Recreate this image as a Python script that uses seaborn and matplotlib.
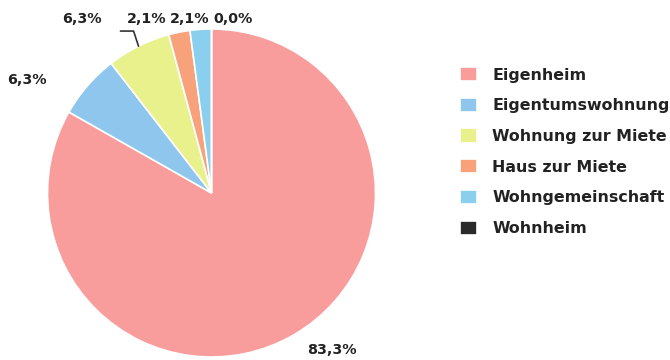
import numpy as np
import matplotlib
matplotlib.use("Agg")
import matplotlib.pyplot as plt
import seaborn as sns

# Wohnsituation – Anteile in Prozent
categories = ["Eigenheim", "Eigentumswohnung", "Wohnung zur Miete",
              "Haus zur Miete", "Wohngemeinschaft", "Wohnheim"]
shares = [83.3, 6.3, 6.3, 2.1, 2.1, 0.0]
slice_colors = ["#F99C9C", "#8EC6EE", "#E9F18C", "#F8A27C", "#8AD0EE", "#2A2A2A"]

# label placement (data units of the pie axes, radius = 1)
label_pos = [(0.735, -0.955), (-1.125, 0.69), (-0.79, 1.06),
             (-0.393, 1.06), (-0.131, 1.06), (0.131, 1.06)]

sns.set_theme(style="white")
plt.rcParams["font.family"] = ["DejaVu Sans"]
palette = sns.color_palette(slice_colors)

fig = plt.figure(figsize=(6.7, 3.6), dpi=100)
fig.patch.set_facecolor("white")

# square axes holding the pie: centre (211.5, 193) px, radius 164 px
W, H = 670, 360
cx, cy, r = 211.5, 193, 164
ax = fig.add_axes([(cx - r) / W, (H - cy - r) / H, 2 * r / W, 2 * r / H])

wedges, _ = ax.pie(shares, colors=palette, startangle=90, counterclock=False,
                   radius=1.0, wedgeprops=dict(edgecolor="white", linewidth=1.2))
ax.set_xlim(-1, 1)
ax.set_ylim(-1, 1)
ax.set_axis_off()

text_color = "#222222"
for val, (lx, ly) in zip(shares, label_pos):
    ax.text(lx, ly, f"{val:.1f}%".replace(".", ","), ha="center", va="center",
            fontsize=10.3, fontweight="bold", color=text_color, clip_on=False)

# leader line from the "Wohnung zur Miete" label to its slice
w = wedges[2]
theta = np.deg2rad((w.theta1 + w.theta2) / 2)
end = np.array([np.cos(theta), np.sin(theta)])
elbow = end + np.array([-0.03, 0.092])
start = elbow + np.array([-0.08, 0.0])
ax.plot([start[0], elbow[0], end[0]], [start[1], elbow[1], end[1]],
        color="#333333", linewidth=1.2, clip_on=False)

fs = 11.4
leg = fig.legend(wedges, categories, loc="upper left",
                 bbox_to_anchor=(460 / W, 1 - 67 / H), frameon=False,
                 fontsize=fs, handlelength=1.1, handleheight=1.0,
                 handletextpad=0.95, labelspacing=0.96, borderpad=0,
                 borderaxespad=0)
for t in leg.get_texts():
    t.set_fontweight("bold")
    t.set_color(text_color)

fig.savefig("out.png", dpi=100, facecolor="white")
